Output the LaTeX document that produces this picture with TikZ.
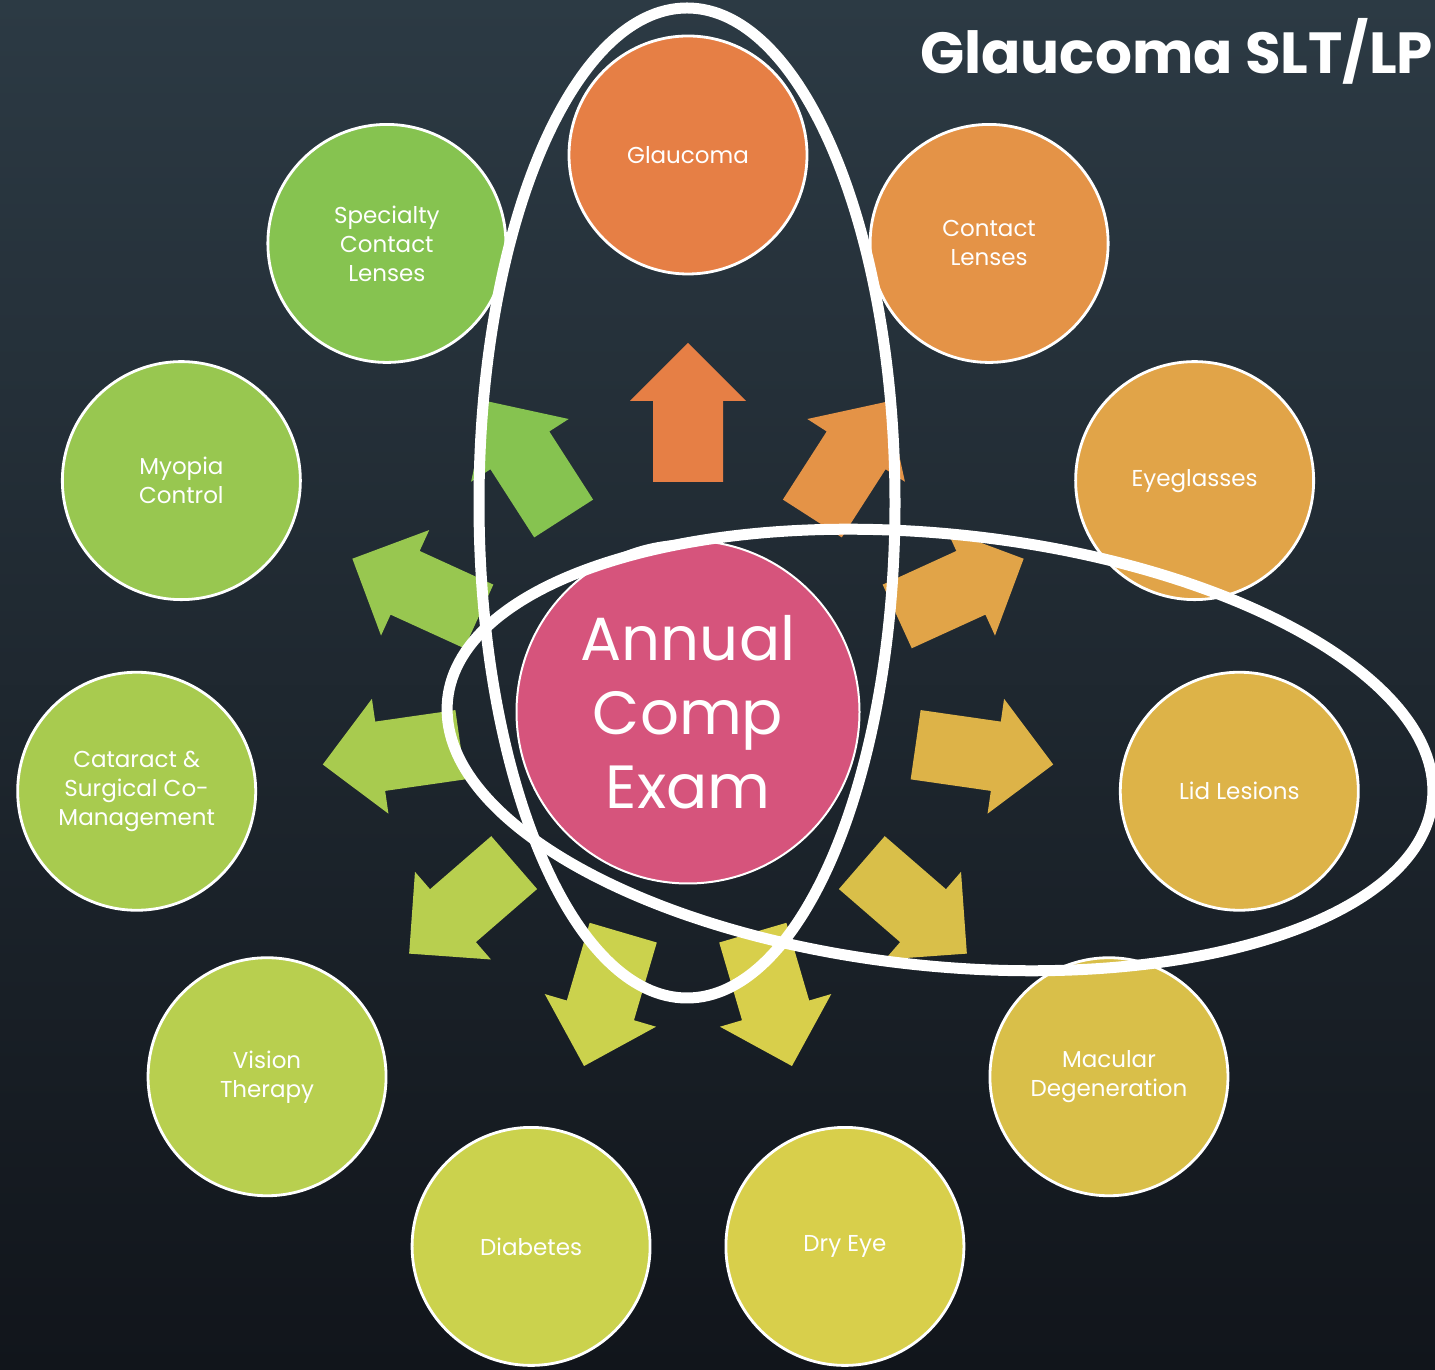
\documentclass[tikz,border=0pt]{standalone}
\usepackage{fontspec}
\setmainfont{Poppins}
\usepackage{tikz}
\usetikzlibrary{calc}
\definecolor{bgtop}{HTML}{2C3A44}
\definecolor{bgmid}{HTML}{25303A}
\definecolor{bgbottom}{HTML}{11151B}
\definecolor{exampink}{HTML}{D6547C}
\definecolor{cGlau}{HTML}{E67F45}
\definecolor{cCont}{HTML}{E49347}
\definecolor{cGlas}{HTML}{E1A448}
\definecolor{cLid}{HTML}{DDB348}
\definecolor{cMac}{HTML}{D9BF49}
\definecolor{cDry}{HTML}{D8CF4B}
\definecolor{cDiab}{HTML}{CBD24D}
\definecolor{cVis}{HTML}{B8CF4F}
\definecolor{cCat}{HTML}{A8CB4F}
\definecolor{cMyo}{HTML}{98C750}
\definecolor{cSpec}{HTML}{86C350}

\begin{document}
\begin{tikzpicture}[x=1pt, y=1pt,
  topic/.style={circle, draw=white, line width=2.8pt, minimum size=238pt, inner sep=0pt,
    align=center, text=white, font=\fontsize{23}{29}\selectfont},
  ring/.style={draw=white, line width=11pt}]
% Background
\useasboundingbox (0,0) rectangle (1435,1370);
\clip (0,0) rectangle (1435,1370);
\fill[top color=bgtop, middle color=bgmid, bottom color=bgbottom] (0,0) rectangle (1435,1370);
\coordinate (mid) at (688,658);

% Arrows
\foreach \i/\col in {0/cGlau, 1/cCont, 2/cGlas, 3/cLid, 4/cMac, 5/cDry,
                     6/cDiab, 7/cVis, 8/cCat, 9/cMyo, 10/cSpec} {
  \begin{scope}[shift={(mid)}, rotate={90-\i*360/11}]
    \fill[\col] (230,-35) -- (311,-35) -- (311,-58) -- (369,0)
      -- (311,58) -- (311,35) -- (230,35) -- cycle;
  \end{scope}
}

% Nodes
\foreach \i/\txt/\col in {0/{Glaucoma}/cGlau, 1/{Contact\\Lenses}/cCont,
    2/{Eyeglasses}/cGlas, 3/{Lid Lesions}/cLid, 4/{Macular\\Degeneration}/cMac,
    5/{Dry Eye}/cDry, 6/{Diabetes}/cDiab, 7/{Vision\\Therapy}/cVis,
    8/{Cataract \&\\Surgical Co-\\Management}/cCat, 9/{Myopia\\Control}/cMyo,
    10/{Specialty\\Contact\\Lenses}/cSpec} {
  \node[topic, fill=\col] (topic\i) at ($(mid)+({90-\i*360/11}:557)$) {\txt};
}

\node[circle, draw=white, line width=2pt, fill=exampink, minimum size=343pt, inner sep=0pt,
  align=center, text=white, font=\fontsize{61}{74}\selectfont] (exam) at (mid) {Annual\\Comp\\Exam};

% Rings
\draw[ring] (687,867) ellipse [x radius=208, y radius=495];
\draw[ring, rotate around={-5.86:(940,620)}] (940,620) ellipse [x radius=495, y radius=216];

% Title
\node[anchor=base west, inner sep=0pt, text=white, font=\bfseries\fontsize{58}{66}\selectfont]
  (title) at (920,1296) {Glaucoma SLT/LP};
\end{tikzpicture}
\end{document}
